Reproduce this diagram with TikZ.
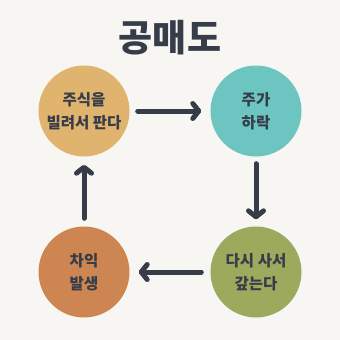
\documentclass[tikz,border=0pt]{standalone}
\usepackage{fontspec}
\newfontfamily\kr{Noto Sans CJK KR}
\usetikzlibrary{arrows.meta}
\definecolor{bgc}{HTML}{F8F6F3}
\definecolor{ink}{HTML}{363C48}
\definecolor{tan}{HTML}{E0B46E}
\definecolor{teal}{HTML}{6CC5C1}
\definecolor{olive}{HTML}{9DAA5E}
\definecolor{rust}{HTML}{CD8651}
\begin{document}
\begin{tikzpicture}[x=1bp,y=-1bp,
  stage/.style={circle,minimum size=91bp,inner sep=0pt,text=ink,align=center,
    font=\kr\bfseries\fontsize{15.5bp}{23bp}\selectfont},
  flow/.style={ink,line width=5bp,line cap=round,
    -{Straight Barb[length=6bp,width=15bp,line cap=round,line join=round]}}]
\fill[bgc] (0,0) rectangle (340,340);
\useasboundingbox (0,0) rectangle (340,340);
\node[text=ink,font=\kr\bfseries\fontsize{37bp}{42bp}\selectfont] (title) at (170,38) {공매도};
\node[stage,fill=tan] (a) at (84,111) {주식을\\빌려서 판다};
\node[stage,fill=teal] (b) at (256,111) {주가\\하락};
\node[stage,fill=olive] (c) at (256,272) {다시 사서\\갚는다};
\node[stage,fill=rust] (d) at (84,272) {차익\\발생};
\draw[flow] ([xshift=8bp]a.east) -- ([xshift=-9bp]b.west);
\draw[flow] ([yshift=-7bp]b.south) -- ([yshift=7bp]c.north);
\draw[flow] ([xshift=-9bp]c.west) -- ([xshift=9bp]d.east);
\draw[flow] ([yshift=8bp]d.north) -- ([yshift=-8bp]a.south);
\end{tikzpicture}
\end{document}
